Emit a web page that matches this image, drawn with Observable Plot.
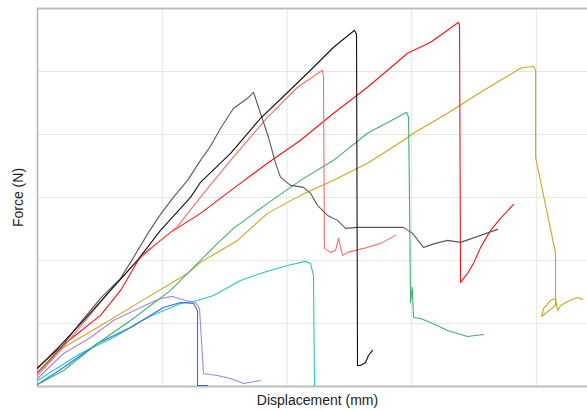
<!DOCTYPE html>
<html>
<head>
<meta charset="utf-8">
<script src="https://cdn.jsdelivr.net/npm/d3@7"></script>
<script src="https://cdn.jsdelivr.net/npm/@observablehq/plot@0.6"></script>
<style>
  html, body { margin: 0; padding: 0; background: #fff; }
  #chart { width: 587px; height: 411px; }
  svg { font-family: "Liberation Sans", Arial, sans-serif; }
</style>
</head>
<body>
<div id="chart"></div>
<script>
// Displacement (mm) / Force (N) pairs
const black = [[0,0.286],[0.184,0.651],[0.385,1.080],[0.585,1.525],[0.802,2.002],[0.986,2.478],[1.227,3.002],[1.307,3.241],[1.548,3.701],[1.788,4.257],[1.973,4.607],[2.189,5.020],[2.374,5.385],[2.542,5.655],[2.558,5.592],[2.566,0.334],[2.590,0.334],[2.630,0.381],[2.654,0.492],[2.686,0.572]];
const gray = [[0,0.222],[0.184,0.604],[0.345,1.017],[0.505,1.398],[0.666,1.716],[0.746,1.970],[0.890,2.446],[0.986,2.732],[1.083,2.987],[1.203,3.272],[1.307,3.590],[1.387,3.813],[1.468,4.098],[1.572,4.416],[1.684,4.575],[1.732,4.670],[1.788,4.337],[1.852,3.956],[1.909,3.543],[1.949,3.320],[2.029,3.193],[2.133,3.161],[2.189,3.066],[2.245,2.875],[2.326,2.716],[2.406,2.637],[2.470,2.510],[2.566,2.526],[2.751,2.526],[2.935,2.526],[3.007,2.430],[3.095,2.208],[3.192,2.272],[3.288,2.319],[3.392,2.288],[3.553,2.399],[3.689,2.494]];
const lightRed = [[0,0.175],[0.184,0.572],[0.385,1.048],[0.585,1.525],[0.786,1.970],[0.986,2.319],[1.123,2.542],[1.331,3.066],[1.548,3.590],[1.844,4.273],[2.085,4.750],[2.285,5.020],[2.293,4.925],[2.301,2.192],[2.350,2.129],[2.390,2.160],[2.414,2.351],[2.446,2.081],[2.486,2.129],[2.614,2.192],[2.751,2.272],[2.871,2.399]];
const red = [[0,0.302],[0.241,0.715],[0.505,1.128],[0.666,1.525],[0.826,2.065],[1.067,2.446],[1.307,2.748],[1.572,3.145],[1.844,3.543],[2.109,3.908],[2.374,4.337],[2.646,4.750],[2.807,5.020],[2.967,5.290],[3.152,5.465],[3.288,5.655],[3.376,5.782],[3.384,5.719],[3.392,1.652],[3.448,1.795],[3.496,1.954],[3.553,2.208],[3.633,2.478],[3.713,2.669],[3.817,2.891]];
const green = [[0,0.032],[0.209,0.254],[0.481,0.683],[0.746,1.048],[1.067,1.525],[1.307,2.002],[1.443,2.272],[1.572,2.510],[1.844,2.907],[2.109,3.272],[2.374,3.590],[2.646,4.019],[2.887,4.273],[2.959,4.353],[2.975,4.273],[2.983,2.955],[2.991,1.334],[3.005,1.573],[3.015,1.096],[3.071,1.080],[3.152,1.017],[3.288,0.890],[3.448,0.794],[3.577,0.826]];
const gold = [[0,0.222],[0.209,0.620],[0.481,0.937],[0.802,1.319],[1.203,1.795],[1.307,1.970],[1.604,2.319],[1.844,2.748],[2.109,3.034],[2.374,3.272],[2.646,3.543],[2.911,3.876],[3.015,4.019],[3.288,4.337],[3.553,4.670],[3.713,4.861],[3.873,5.052],[3.978,5.083],[3.994,5.020],[3.994,3.638],[4.154,2.113],[4.154,1.287],[4.042,1.112],[4.058,1.239],[4.114,1.366],[4.154,1.398],[4.170,1.207],[4.194,1.287],[4.250,1.350],[4.330,1.414],[4.371,1.382]];
const cyan = [[0,0.095],[0.345,0.524],[0.609,0.778],[0.882,1.096],[1.147,1.319],[1.283,1.366],[1.411,1.446],[1.628,1.684],[1.812,1.811],[2.005,1.922],[2.149,1.986],[2.189,1.954],[2.213,1.763],[2.221,0.016]];
const purple = [[0,0.127],[0.209,0.524],[0.425,0.778],[0.609,1.048],[0.826,1.255],[0.986,1.398],[1.083,1.430],[1.187,1.366],[1.267,1.334],[1.299,1.239],[1.331,0.207],[1.443,0.175],[1.548,0.127],[1.652,0.048],[1.788,0.095]];
const blue = [[0,0.032],[0.209,0.302],[0.481,0.683],[0.746,0.937],[1.010,1.255],[1.147,1.334],[1.251,1.319],[1.283,1.207],[1.283,0.016],[1.363,0.016]];

const seriesNames = ["cyan","blue","purple","gold","green","red","lightRed","gray","black"];
const seriesColors = ["#22c8cc","#2f6fe4","#a982e2","#d4a21c","#3cb371","#ff1010","#ff6a6a","#5a5a5a","#111111"];
const seriesData = [cyan, blue, purple, gold, green, red, lightRed, gray, black];

const xTicks = [1, 2, 3, 4];
const yTicks = [1, 2, 3, 4, 5];
const xLabel = "Displacement (mm)";
const yLabel = "Force (N)";

const rows = seriesData.flatMap((pts, i) => pts.map(([x, y]) => ({x, y, s: seriesNames[i]})));

const chart = Plot.plot({
  width: 587,
  height: 411,
  marginLeft: 37,
  marginRight: 0,
  marginTop: 8,
  marginBottom: 25,
  x: {domain: [0, 4.41], axis: null},
  y: {domain: [0, 6], axis: null},
  color: {domain: seriesNames, range: seriesColors},
  marks: [
    Plot.gridX(xTicks, {stroke: "#e6e6e6", strokeOpacity: 1, strokeWidth: 1}),
    Plot.gridY(yTicks, {stroke: "#e6e6e6", strokeOpacity: 1, strokeWidth: 1}),
    Plot.ruleY([0, 6], {stroke: "#bdbdbd", strokeWidth: 2}),
    Plot.ruleX([0], {stroke: "#b5b5b5", strokeWidth: 1.5}),
    Plot.line(rows, {x: "x", y: "y", z: "s", stroke: "s", strokeWidth: 1.1}),
    Plot.text([xLabel], {text: d => d, frameAnchor: "bottom", textAnchor: "middle", dy: 18, dx: 5, fontSize: 14, fill: "#222"}),
    Plot.text([yLabel], {text: d => d, frameAnchor: "left", textAnchor: "middle", dx: -19, rotate: -90, fontSize: 14, fill: "#222"})
  ]
});
document.getElementById("chart").appendChild(chart);
</script>
</body>
</html>
